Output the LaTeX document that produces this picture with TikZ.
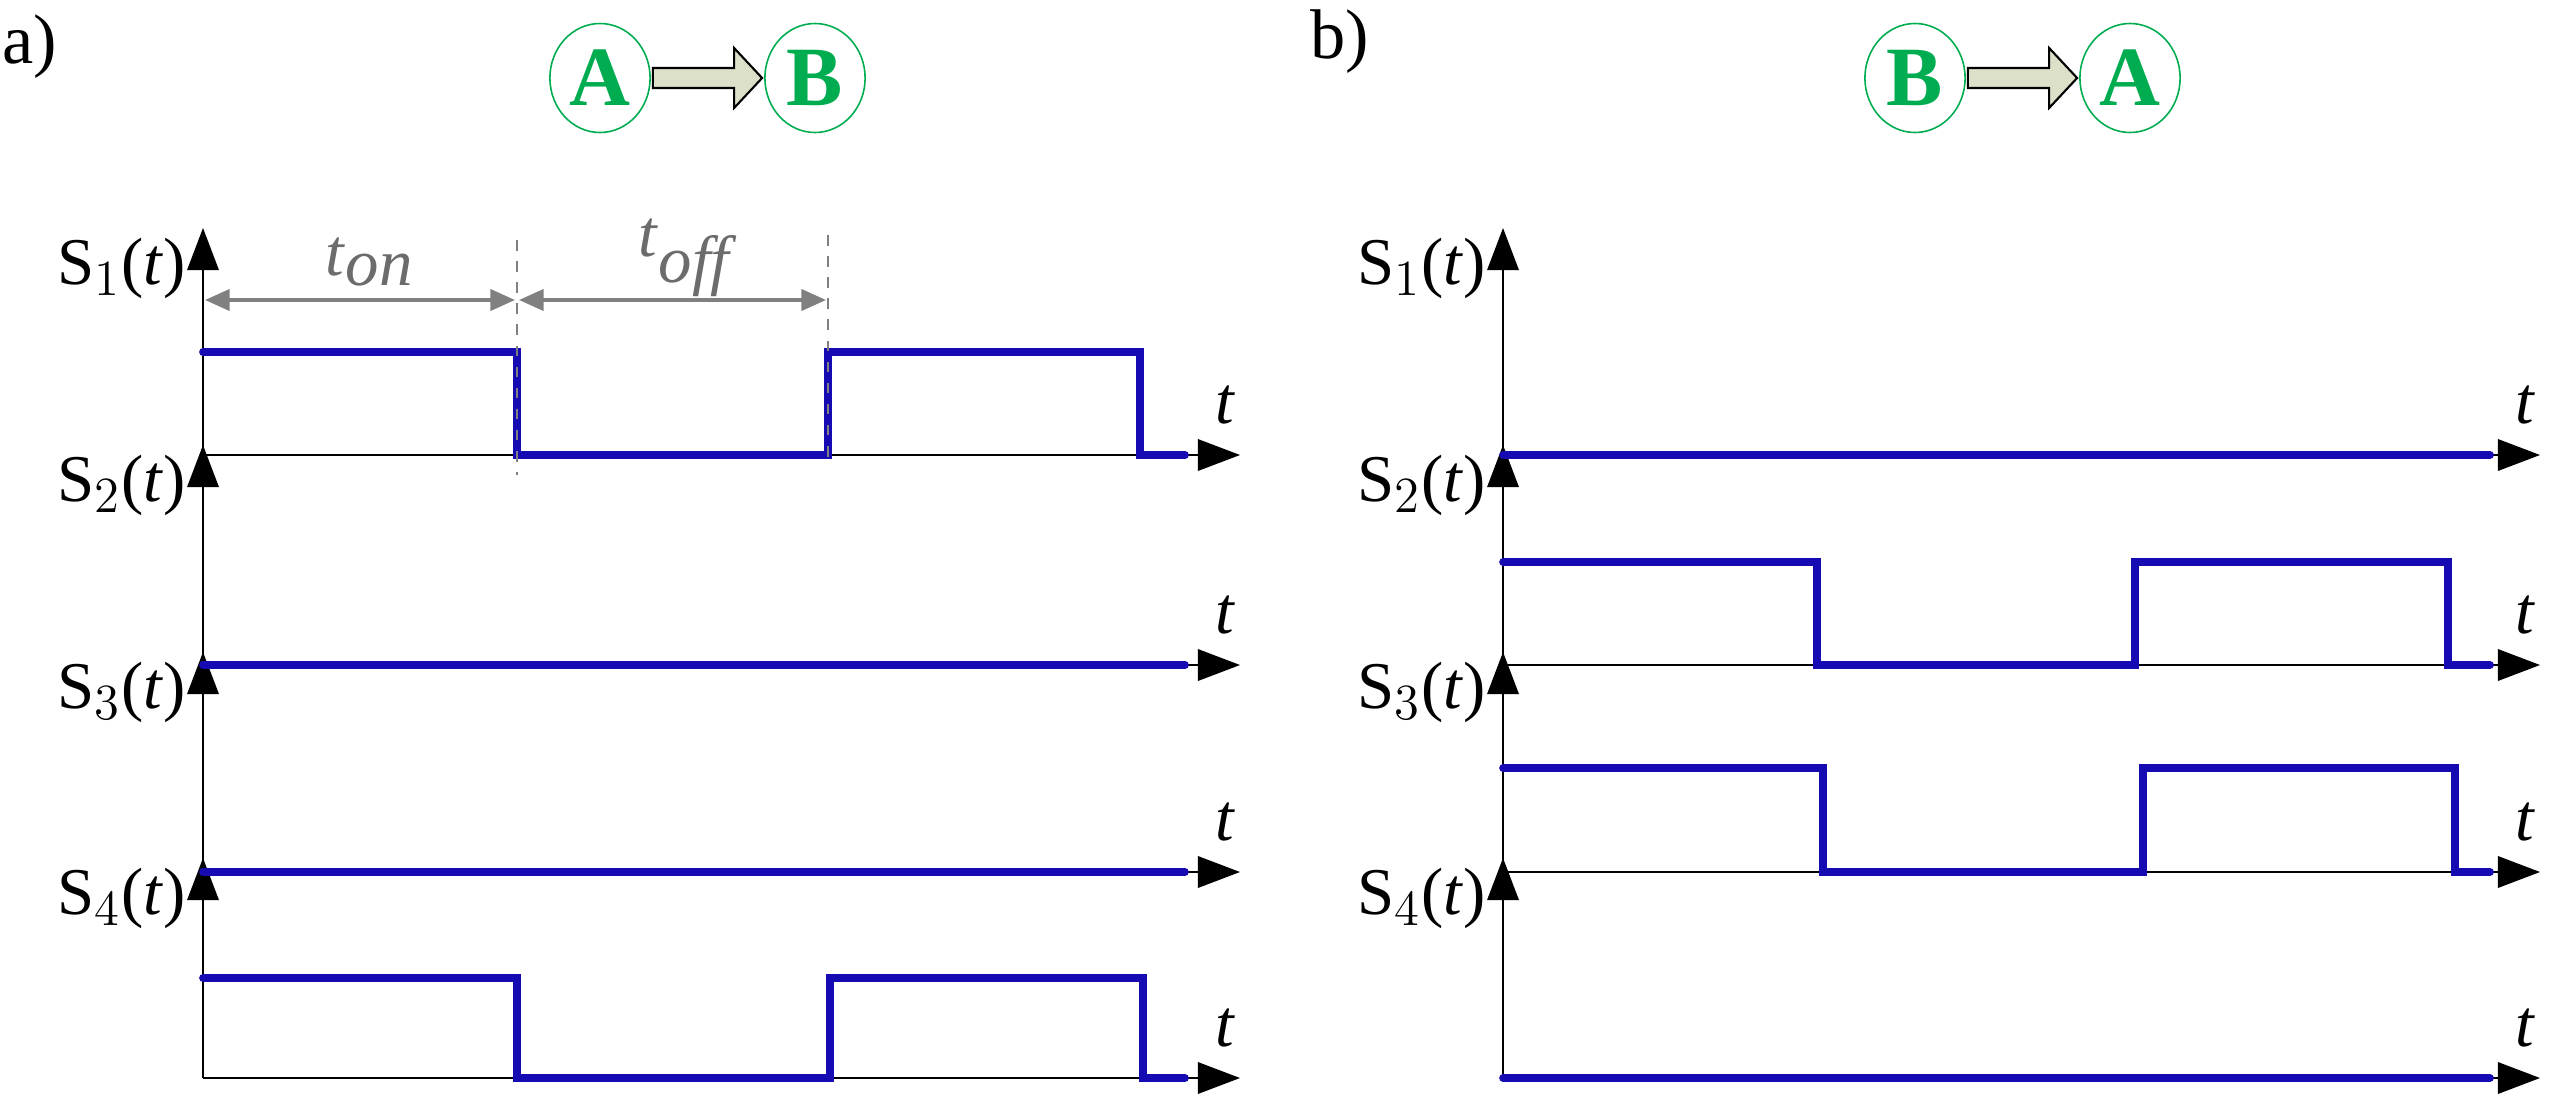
\documentclass[tikz,border=0pt]{standalone}
\usepackage{fontspec}
\setmainfont{Liberation Serif}
\usetikzlibrary{arrows.meta,shapes.geometric,calc}
\definecolor{sigblue}{RGB}{22,10,178}
\definecolor{stgreen}{RGB}{0,172,80}
\definecolor{arrfill}{RGB}{220,224,200}
\tikzset{
	axis/.style={line width=0.45pt,-{Triangle[length=12pt,width=9pt]}},
	signal/.style={line width=2.2pt,color=sigblue,line cap=round},
	dimline/.style={line width=1pt,color=gray,{Triangle[length=7pt,width=6pt]}-{Triangle[length=7pt,width=6pt]}},
	state/.style={ellipse,draw=stgreen,line width=0.45pt,minimum width=28.5pt,minimum height=31pt,inner sep=0pt,text=stgreen,font=\fontsize{24}{24}\selectfont\bfseries},
	lbl/.style={font=\fontsize{19}{22}\selectfont}
}
\begin{document}
\begin{tikzpicture}[x=0.01cm,y=-0.01cm]
\useasboundingbox (0,0) rectangle (2561,1112);

\node[lbl,font=\fontsize{20}{22}\selectfont] (pa) at (30,47) {a)};
\node[lbl,font=\fontsize{20}{22}\selectfont] (pb) at (1340,42) {b)};

% state transitions
\node[state] (A1) at (600,78) {A};
\node[state] (B1) at (815,78) {B};
\node[state] (B2) at (1915,78) {B};
\node[state] (A2) at (2130,78) {A};
\foreach \from/\to in {A1/B1,B2/A2} {
	\path (\from.east) ++(2,0) coordinate (s);
	\path (\to.west) ++(-2,0) coordinate (e);
	\draw[fill=arrfill,line width=0.6pt] ($(s)+(0,-10)$)--($(e)+(-28,-10)$)--($(e)+(-28,-30)$)--(e)--($(e)+(-28,30)$)--($(e)+(-28,10)$)--($(s)+(0,10)$)--cycle;
}

% axes: panel x-origin / baseline / axis top / label name
\foreach \ox/\xe in {203/1240,1503/2540} {
	\foreach \base/\top/\i in {455/228/1,665/445/2,872/652/3,1078/858/4} {
		\draw[axis] (\ox,\base)--(\ox,\top);
		\draw[axis] (\ox,\base)--(\xe,\base);
		\node[lbl,anchor=south] at (\xe-15,\base-18) {\textit{t}};
		\node[lbl,anchor=east] at (\ox-5,\top+40) {S$_{\i}$(\textit{t})};
	}
}

% panel a signals
\draw[signal] (203,352)--(517,352)--(517,455)--(828,455)--(828,352)--(1140,352)--(1140,455)--(1185,455);
\draw[signal] (203,665)--(1185,665);
\draw[signal] (203,872)--(1185,872);
\draw[signal] (203,978)--(517,978)--(517,1078)--(830,1078)--(830,978)--(1143,978)--(1143,1078)--(1185,1078);

% t_on / t_off
\draw[dashed,gray,line width=0.6pt] (517,240)--(517,475);
\draw[dashed,gray,line width=0.6pt] (828,235)--(828,465);
\draw[dimline] (205,300)--(515,300);
\draw[dimline] (519,300)--(826,300);
\node[lbl,text=gray!85!black] (ton) at (370,262) {\textit{t}$_{\textit{on}}$};
\node[lbl,text=gray!85!black] (toff) at (685,258) {\textit{t}$_{\textit{off}}$};

% panel b signals
\draw[signal] (1503,455)--(2490,455);
\draw[signal] (1503,562)--(1817,562)--(1817,665)--(2135,665)--(2135,562)--(2448,562)--(2448,665)--(2490,665);
\draw[signal] (1503,768)--(1823,768)--(1823,872)--(2143,872)--(2143,768)--(2455,768)--(2455,872)--(2490,872);
\draw[signal] (1503,1078)--(2490,1078);
\end{tikzpicture}
\end{document}
